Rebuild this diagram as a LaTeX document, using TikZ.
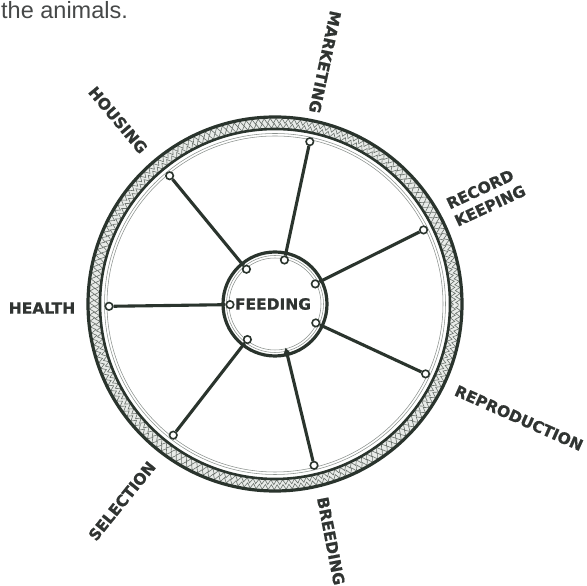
\documentclass[tikz,border=0pt]{standalone}
\usepackage{fontspec}
\newfontfamily\labfont{DejaVu Sans}[BoldFeatures={FakeBold=0.8}]
\newfontfamily\topfont{Liberation Sans}
\usetikzlibrary{decorations.pathmorphing,arrows.meta}
\definecolor{ink}{RGB}{42,52,45}
\definecolor{txt}{RGB}{48,52,50}
\definecolor{bandfill}{RGB}{232,235,232}
\definecolor{hatch}{RGB}{105,112,107}
\definecolor{thinline}{RGB}{140,146,142}
\definecolor{toptext}{RGB}{70,72,72}
\begin{document}
\begin{tikzpicture}[x=1pt,y=1pt,
  lab/.style={font=\labfont\bfseries\fontsize{15.5}{19}\selectfont, text=txt, inner sep=0pt},
  spoke/.style={draw=ink, line width=3.1pt},
  joint/.style={circle, draw=ink, fill=white, line width=1.6pt, minimum size=7.5pt, inner sep=0pt},
  rimdark/.style={draw=ink, line width=3.2pt},
  riminner/.style={draw=ink, line width=2.6pt},
  thinring/.style={draw=thinline, line width=0.55pt},
  hatchline/.style={draw=hatch, line width=0.6pt, decorate,
    decoration={zigzag, segment length=6pt, amplitude=2.4pt}}]
\useasboundingbox (0,0) rectangle (587,586);
\fill[white] (0,0) rectangle (587,586);
\node[font=\topfont\fontsize{23.5}{26}\selectfont, text=toptext, anchor=base west, inner sep=0pt] (top) at (1,567.5) {the animals.};
\coordinate (c) at (275,282);
% rim band
\fill[bandfill, even odd rule] (c) circle (186) (c) circle (175.5);
\draw[hatchline] (c) circle (178.2);
\draw[hatchline] (c) circle (183.2);
\draw[rimdark] (c) circle (187);
\draw[riminner] (c) circle (175);
\draw[thinring] (c) circle (170.5);
\draw[thinring] (c) circle (168);
% hub
\draw[rimdark] (c) circle (52);
\draw[thinring] (c) circle (48.5);
\draw[thinring] (c) circle (46);
\node[lab] (feed) at (273,282) {FEEDING};
% joints and spokes
\foreach \n/\a in {rec/26.5, mar/77.9, hou/129.4, hea/180.8, sel/232.2, rep/335.1} {
  \node[joint] (o\n) at ([shift={(\a:166)}]c) {};
  \node[joint] (i\n) at ([shift={(\a:45)}]c) {};
  \draw[spoke] (i\n) -- (o\n);
}
\node[joint] (obre) at ([shift={(283.6:166)}]c) {};
\coordinate (ibre) at ([shift={(283.6:45)}]c);
\draw[spoke, -{Triangle[length=7pt,width=7.5pt]}] (obre) -- (ibre);
% labels
\node[lab] (health) at (42,278) {HEALTH};
\node[lab, rotate=-50] (housing) at (118,466) {HOUSING};
\node[lab, rotate=-102] (marketing) at (325,524) {MARKETING};
\node[lab, rotate=25, align=left] (record) at (486,389) {RECORD\\KEEPING};
\node[lab, rotate=-24] (repro) at (519,168) {REPRODUCTION};
\node[lab, rotate=-79] (breeding) at (331,45) {BREEDING};
\node[lab, rotate=51] (selection) at (122,85) {SELECTION};
\end{tikzpicture}
\end{document}
